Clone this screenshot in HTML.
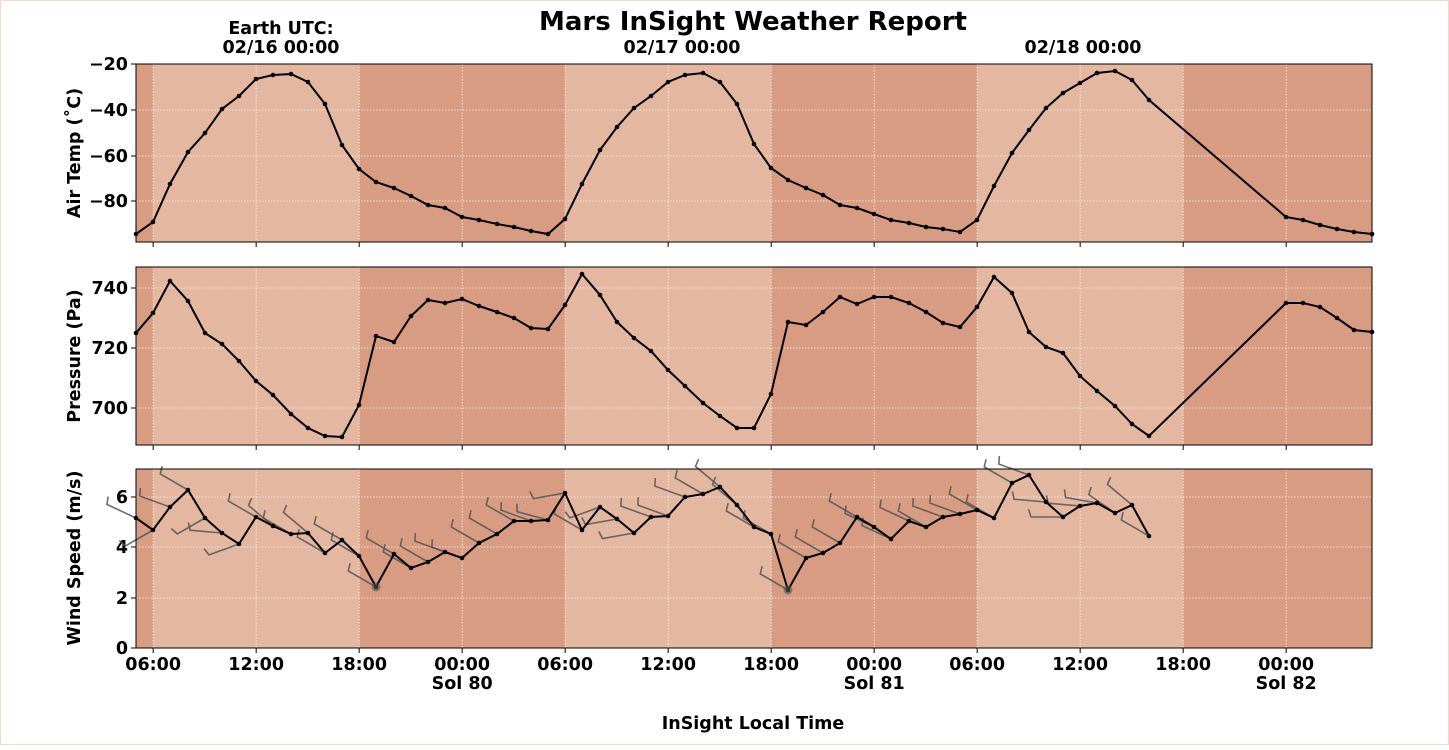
<!DOCTYPE html>
<html><head><meta charset="utf-8"><style>
body{margin:0;background:#fff;width:1449px;height:745px;overflow:hidden}
svg{font-family:"DejaVu Sans","Liberation Sans",sans-serif;font-weight:bold}
</style></head><body>
<svg id="s" width="1449" height="745" xmlns="http://www.w3.org/2000/svg"></svg>
<script>
const s=document.getElementById('s');let h='';
const L=136,R=1372,hx=17.1667;
const panels=[[64,242],[267,445],[469,648]];
const light='#e4b7a0',dark='#d89c83';
const FS=17.5;
function X(hr){return L+(hr-5)*hx;}
h+=`<rect x="0.5" y="0.5" width="1448" height="744" fill="none" stroke="#f3d9cc" stroke-width="1"/>`;
panels.forEach(([t,b])=>{
 h+=`<rect x="${L}" y="${t}" width="${R-L}" height="${b-t}" fill="${dark}"/>`;
 [[6,18],[30,42],[54,66]].forEach(([a,c])=>{h+=`<rect x="${X(a)}" y="${t}" width="${X(c)-X(a)}" height="${b-t}" fill="${light}"/>`;});
 for(let hr=6;hr<=77;hr+=6){const x=X(hr);h+=`<line x1="${x}" y1="${t}" x2="${x}" y2="${b}" stroke="#fff" stroke-width="0.8" stroke-dasharray="1.5,1.5" opacity="0.8"/>`;}
});
function hgrid(p,ys,labels){ys.forEach((y,i)=>{h+=`<line x1="${L}" y1="${y}" x2="${R}" y2="${y}" stroke="#fff" stroke-width="0.8" stroke-dasharray="1.5,1.5" opacity="0.8"/><line x1="${L-5}" y1="${y}" x2="${L}" y2="${y}" stroke="#000"/><text x="${L-8}" y="${y+6}" font-size="${FS}" text-anchor="end">${labels[i]}</text>`;});}
hgrid(0,[64,110,156,201],['\u221220','\u221240','\u221260','\u221280']);
hgrid(1,[288,348,408],['740','720','700']);
hgrid(2,[497,547,598,648],['6','4','2','0']);
function series(pts){let d=pts.map((p,i)=>(i?'L':'M')+p[0]+','+p[1]).join(' ');h+=`<path d="${d}" fill="none" stroke="#000" stroke-width="2"/>`;pts.forEach(p=>{h+=`<circle cx="${p[0]}" cy="${p[1]}" r="2.3" fill="#000"/>`;});}
const xs=[];for(let i=0;i<61;i++)xs.push(Math.round(X(5+i)));
const tT=[234,222,184,152,133,109,96,79,75,74,82,104,145,169,182,188,196,205,208,217,220,224,227,231,234,219,184,150,127,108,96,82,75,73,82,104,144,168,180,188,195,205,208,214,220,223,227,229,232,220,186,153,130,108,93,83,73,71,80,100];
const pT=[333,313,281,301,333,344,361,381,395,414,428,436,437,405,336,342,316,300,303,299,306,312,318,328,329,305,274,295,322,338,351,370,386,403,416,428,428,394,322,325,312,297,304,297,297,303,312,323,327,307,277,293,332,347,353,376,391,406,424,436];
const wT=[518,530,507,490,518,533,544,517,526,534,533,553,540,556,587,554,568,562,552,558,543,534,521,521,520,493,530,507,519,533,517,516,497,494,487,505,527,534,590,558,553,543,517,527,539,521,527,517,514,510,518,483,475,502,517,506,503,513,505,536];
const ang=[155,210,160,150,210,175,200,150,140,150,140,150,150,150,150,150,150,150,160,160,150,150,150,160,165,190,150,200,190,190,160,160,160,150,140,140,150,150,150,150,150,150,150,155,155,155,150,160,160,150,150,150,160,175,180,175,170,145,140,150];
wT.forEach((y,i)=>{const x=xs[i];const a=ang[i]*Math.PI/180;const ex=x+32*Math.cos(a),ey=y-32*Math.sin(a);const pa=a-Math.PI/2;const tx=ex+8*Math.cos(pa+0.3),ty=ey-8*Math.sin(pa+0.3);
h+=`<path d="M${x},${y} L${ex.toFixed(1)},${ey.toFixed(1)} L${tx.toFixed(1)},${ty.toFixed(1)}" fill="none" stroke="#555" stroke-width="1.6" opacity="0.85"/>`;});
series(tT.map((y,i)=>[xs[i],y]).concat([[1286,217],[1303,220],[1320,225],[1337,229],[1354,232],[1372,234]]));
series(pT.map((y,i)=>[xs[i],y]).concat([[1286,303],[1303,303],[1320,307],[1337,318],[1354,330],[1372,332]]));
series(wT.map((y,i)=>[xs[i],y]));
h+=`<circle cx="${xs[14]}" cy="587" r="4.5" fill="#555" opacity="0.6"/><circle cx="${xs[38]}" cy="590" r="4.5" fill="#555" opacity="0.6"/>`;
panels.forEach(([t,b])=>{h+=`<rect x="${L}" y="${t}" width="${R-L}" height="${b-t}" fill="none" stroke="#000" stroke-width="1"/>`;
 for(let hr=6;hr<=77;hr+=6){const x=X(hr);h+=`<line x1="${x}" y1="${b}" x2="${x}" y2="${b+5}" stroke="#000"/>`;}});
const lab=['06:00','12:00','18:00','00:00','06:00','12:00','18:00','00:00','06:00','12:00','18:00','00:00'];
lab.forEach((l,i)=>{const x=X(6+6*i);h+=`<text x="${x}" y="670" font-size="${FS}" text-anchor="middle">${l}</text>`;});
[['Sol 80',24],['Sol 81',48],['Sol 82',72]].forEach(([l,hr])=>{h+=`<text x="${X(hr)}" y="689" font-size="${FS}" text-anchor="middle">${l}</text>`;});
h+=`<text x="281" y="34" font-size="${FS}" text-anchor="middle">Earth UTC:</text>`;
[['02/16 00:00',281],['02/17 00:00',682],['02/18 00:00',1083]].forEach(([l,x])=>{h+=`<text x="${x}" y="53" font-size="${FS}" text-anchor="middle">${l}</text>`;});
h+=`<text x="753" y="30" font-size="26" text-anchor="middle">Mars InSight Weather Report</text>`;
h+=`<text x="753" y="729" font-size="${FS}" text-anchor="middle">InSight Local Time</text>`;
[['Air Temp (\u02daC)',153],['Pressure (Pa)',356],['Wind Speed (m/s)',558]].forEach(([l,y])=>{h+=`<text transform="translate(80,${y}) rotate(-90)" font-size="${FS}" text-anchor="middle">${l}</text>`;});
s.innerHTML=h;
</script>
</body></html>
